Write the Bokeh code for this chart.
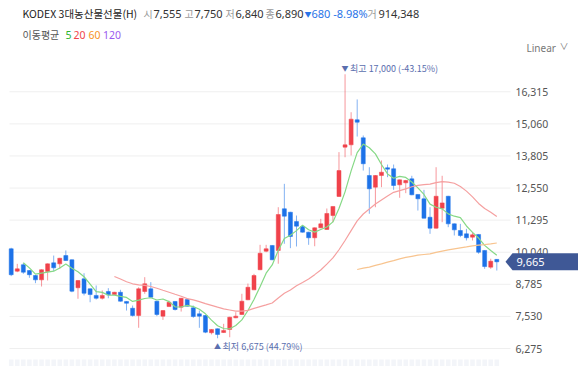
import numpy as np
import pandas as pd
from bokeh.plotting import figure
from bokeh.layouts import column
from bokeh.models import ColumnDataSource, Range1d
from bokeh.core.properties import value
from bokeh.embed import file_html
from bokeh.resources import INLINE

# ---------------- data ----------------
stock_name = "KODEX 3대농산물선물(H)"
quote_labels = ["시", "고", "저", "종"]
quote_values = ["7,555", "7,750", "6,840", "6,890"]
change_text = "680 -8.98%"
volume_label = "거"
volume_text = "914,348"
ma_title = "이동평균"
ma_periods = [5, 20, 60, 120]
ma_colors = ["#86d986", "#f5a0a0", "#f8c48f", "#b58cf0"]
ma_label_colors = ["#2fb52f", "#f0454b", "#f7941d", "#9b59f0"]
scale_label = "Linear"

# first two sessions are before the visible window (used by the moving averages)
hidden_sessions = 2
opens = [10250, 10150,
         10175, 9300, 9550, 9325, 9130, 8960, 9285, 9625, 9585, 9910,
         9745, 8650, 9000, 8610, 8350, 8240, 8505, 8385, 8475, 8115,
         7850, 7565, 8505, 8610, 8125, 7540, 7915, 8115, 7890, 8190,
         7865, 7630, 7565, 6890, 7045, 6900, 7020, 7475, 7605, 8180,
         8570, 9355, 10080, 10305, 10110, 11740, 11605, 11240, 11045, 10825,
         10605, 10995, 10930, 11475, 12220, 14150, 14240, 15220, 14515, 13040,
         12585, 13040, 13345, 13305, 12675, 12755, 12910, 12300, 12130, 11410,
         10980, 11760, 12230, 11150, 10890, 10760, 10630, 10735, 10110, 9455,
         9760]
highs = [10330, 10260,
         10215, 9585, 9625, 9340, 9150, 9370, 9600, 9910, 9820, 10110,
         9760, 8950, 9220, 8620, 8740, 8545, 8635, 8490, 8570, 8125,
         7955, 8670, 9065, 8870, 8140, 7775, 8150, 8130, 8255, 8240,
         7955, 7760, 7580, 7035, 7060, 7240, 7515, 7695, 8415, 8815,
         9195, 10330, 10330, 10320, 11800, 12715, 11620, 11475, 11060, 10840,
         11010, 11345, 11750, 11840, 13955, 17000, 15515, 16015, 14605, 13365,
         13060, 13630, 13470, 13470, 12885, 12870, 13030, 12310, 12480, 11800,
         13365, 13030, 12245, 11165, 11150, 10955, 10825, 10745, 10120, 9785,
         9775]
lows = [10080, 10100,
        9105, 9260, 9195, 9040, 8830, 8700, 8935, 9300, 9390, 9700,
        8475, 8220, 8350, 8085, 8190, 8190, 8240, 8370, 8110, 7760,
        7525, 7085, 8415, 8265, 7540, 7395, 7900, 7760, 7720, 7915,
        7475, 7085, 6875, 6825, 6675, 6885, 6715, 7460, 7590, 8165,
        8555, 9340, 10040, 9730, 9590, 10370, 10200, 10265, 10810, 10330,
        10275, 10980, 10920, 11215, 12200, 13755, 13825, 14565, 13235, 11545,
        11800, 12585, 12975, 12480, 12170, 12350, 12270, 11670, 11360, 10760,
        10965, 11215, 11020, 10695, 10630, 10500, 10500, 9980, 9390, 9390,
        9325]
closes = [10150, 10170,
          9160, 9390, 9260, 9160, 8960, 9355, 9585, 9430, 9805, 9715,
          8515, 8935, 8435, 8385, 8240, 8350, 8375, 8475, 8125, 8045,
          7565, 8610, 8805, 8280, 7605, 7760, 8085, 7800, 8240, 7930,
          7525, 7540, 6915, 7020, 6825, 6980, 7500, 7540, 8125, 8670,
          9130, 10000, 10175, 9745, 11515, 11450, 10655, 11060, 10825, 10605,
          10995, 11150, 11555, 11830, 13235, 14240, 15245, 15125, 13500, 12520,
          13040, 13170, 13290, 12650, 12870, 12845, 12285, 12130, 11370, 10980,
          12230, 11970, 11150, 10915, 10695, 10605, 10720, 10040, 9480, 9690,
          9665]
y_ticks = [6275, 7530, 8785, 10040, 11295, 12550, 13805, 15060, 16315]

# ---------------- layout constants (pixels) ----------------
W = 578
HEADER_H = 60
MAIN_H = 306
STEP_PX = 6.07          # distance between candles
FIRST_PX = 10.7         # first visible candle, from the frame's left edge
VAL_PER_PX = 39.11
TICK0_PX = 288          # lowest tick from the frame's top
GRID_START_PX = 9
GRID_END_PX = 510
LABEL_PX = 515
TAG_TIP_PX = 505
TAG_BODY_PX = 512
TAG_TEXT_PX = 516
TAG_HALF_PX = 8.5
STRIP_PX = 7            # faint strip at the bottom

RED = "#f0424b"
BLUE = "#1d72e8"
FONT = "Noto Sans CJK KR"
NUMFONT = "Noto Sans"

n = len(closes)
idx = np.arange(n) - hidden_sessions
o = np.array(opens, float); h = np.array(highs, float)
l = np.array(lows, float); c = np.array(closes, float)
up = c >= o
col = np.where(up, RED, BLUE)
vis = idx >= 0

x0 = -FIRST_PX / STEP_PX
x1 = x0 + W / STEP_PX
y0 = y_ticks[0] - (MAIN_H - TICK0_PX) * VAL_PER_PX
y1 = y0 + MAIN_H * VAL_PER_PX

def xpx(px):
    return x0 + px / STEP_PX

p = figure(width=W, height=MAIN_H, output_backend="svg", toolbar_location=None,
           x_range=Range1d(x0, x1), y_range=Range1d(y0, y1),
           min_border=0, outline_line_color=None)
p.xaxis.visible = False
p.yaxis.visible = False
p.xgrid.visible = False
p.ygrid.visible = False

# grid lines
p.segment(x0=[xpx(GRID_START_PX)] * len(y_ticks), x1=[xpx(GRID_END_PX)] * len(y_ticks),
          y0=y_ticks, y1=y_ticks, line_color="#efefef", line_width=1)

# faint date strip placeholder
p.vbar(x=idx[vis], width=0.75, bottom=y0, top=y0 + STRIP_PX * VAL_PER_PX,
       fill_color="#f3f5f9", line_color=None)

src = ColumnDataSource(dict(x=idx[vis], o=o[vis], h=h[vis], l=l[vis], c=c[vis],
                            top=np.maximum(o, c)[vis], bottom=np.minimum(o, c)[vis],
                            col=col[vis]))
p.segment(x0="x", x1="x", y0="l", y1="h", source=src, line_color="col",
          line_alpha=0.55, line_width=1)
p.vbar(x="x", width=0.66, top="top", bottom="bottom", source=src,
       fill_color="col", line_color="col", line_width=0.5)

# moving averages (use the sessions before the window too)
cs = pd.Series(c)
for per, mc in zip(ma_periods, ma_colors):
    ma = cs.rolling(per).mean().to_numpy()
    p.line(idx[vis], ma[vis], line_color=mc, line_width=1.2)

# high / low markers
hv, lv, iv = h[vis], l[vis], idx[vis]
imax = int(np.argmax(hv)); imin = int(np.argmin(lv))
last = c[-1]
hi_txt = f"최고 {int(hv[imax]):,} ({(last - hv[imax]) / hv[imax] * 100:.2f}%)"
lo_txt = f"최저 {int(lv[imin]):,} ({(last - lv[imin]) / lv[imin] * 100:.2f}%)"
ann_col = "#5a6eae"
p.text([iv[imax]], [hv[imax]], text=["▼"], x_offset=0, y_offset=-6,
       text_font=value(FONT), text_font_size="7px", text_color=ann_col,
       text_baseline="middle", text_align="center")
p.text([iv[imax]], [hv[imax]], text=[hi_txt], x_offset=5, y_offset=-6,
       text_font=value(FONT), text_font_size="9px", text_color=ann_col,
       text_baseline="middle", text_align="left")
p.text([iv[imin]], [lv[imin]], text=["▲"], x_offset=0, y_offset=8,
       text_font=value(FONT), text_font_size="7px", text_color=ann_col,
       text_baseline="middle", text_align="center")
p.text([iv[imin]], [lv[imin]], text=[lo_txt], x_offset=5, y_offset=8,
       text_font=value(FONT), text_font_size="9px", text_color=ann_col,
       text_baseline="middle", text_align="left")

# y tick labels
p.text([xpx(LABEL_PX)] * len(y_ticks), y_ticks, text=[f"{t:,}" for t in y_ticks],
       text_font=value(NUMFONT), text_font_size="10.5px", text_color="#555555",
       text_baseline="middle", text_align="left")

# current price tag
hh = TAG_HALF_PX * VAL_PER_PX
p.patch([xpx(TAG_TIP_PX), xpx(TAG_BODY_PX), x1, x1, xpx(TAG_BODY_PX)],
        [last, last + hh, last + hh, last - hh, last - hh],
        fill_color="#3f5896", line_color=None)
p.text([xpx(TAG_TEXT_PX)], [last], text=[f"{int(last):,}"],
       text_font=value(NUMFONT), text_font_size="11px", text_color="white",
       text_baseline="middle", text_align="left")

# ---------------- header ----------------
hd = figure(width=W, height=HEADER_H, output_backend="svg", toolbar_location=None,
            x_range=Range1d(0, W), y_range=Range1d(HEADER_H, 0),
            min_border=0, outline_line_color=None)
hd.xaxis.visible = False; hd.yaxis.visible = False
hd.xgrid.visible = False; hd.ygrid.visible = False

def htext(x, y, t, color, size="10.5px", font=FONT):
    hd.text([x], [y], text=[t], text_font=value(font), text_font_size=size,
            text_color=color, text_baseline="middle", text_align="left")

r1 = 13
htext(22, r1, stock_name, "#222222", "10.5px")
lab_x = [143, 184, 225, 265]
for lx_, lab, val in zip(lab_x, quote_labels, quote_values):
    htext(lx_, r1, lab, "#999999", "10px")
    htext(lx_ + 10, r1, val, "#333333", "11px", NUMFONT)
htext(304, r1, "▼", "#2a74e8", "7px")
htext(311, r1, change_text, "#2a74e8", "11px", NUMFONT)
htext(367, r1, volume_label, "#999999", "10px")
htext(378, r1, volume_text, "#333333", "11px", NUMFONT)

r2 = 34
htext(22, r2, ma_title, "#555555", "10px")
mx = [65, 73, 88, 102.5]
for xx, per, mc in zip(mx, ma_periods, ma_label_colors):
    htext(xx, r2, str(per), mc, "10.5px", NUMFONT)
htext(526, 47, scale_label, "#777777", "10px", NUMFONT)
htext(559, 46, "∨", "#777777", "9px")

layout = column(hd, p, spacing=0)
open("out.html", "w").write(file_html(layout, INLINE))
